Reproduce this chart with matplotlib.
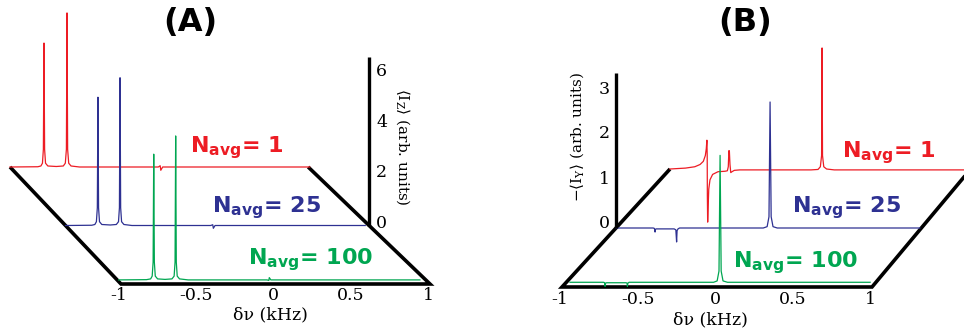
import matplotlib
matplotlib.use('Agg')
import numpy as np
import matplotlib.pyplot as plt
from matplotlib.transforms import Affine2D, offset_copy

RED = '#ED1C24'
BLUE = '#2E3192'
GREEN = '#00A651'

# ---------------- data ----------------
n_avg = [1, 25, 100]
x_ticks = [-1, -0.5, 0, 0.5, 1]
x_tick_labels = ['-1', '-0.5', '0', '0.5', '1']
a_z_ticks = [0, 2, 4, 6]
b_z_ticks = [0, 1, 2, 3]

# Panel A  (<I_Z>)
a_red_x = [-1.0, -0.82, -0.800, -0.790, -0.784, -0.780, -0.776, -0.770, -0.755, -0.70,
           -0.655, -0.642, -0.635, -0.631, -0.627, -0.620, -0.605, -0.55,
           -0.04, -0.028, -0.024, -0.012, 0.94]
a_red_z = [0.0, 0.01, 0.04, 0.15, 0.7, 4.9, 0.7, 0.15, 0.04, 0.02,
           0.04, 0.15, 0.7, 6.09, 0.7, 0.15, 0.04, 0.0,
           0.0, 0.05, -0.13, 0.0, 0.0]
a_blue_x = [-1.0, -0.83, -0.810, -0.800, -0.794, -0.790, -0.786, -0.780, -0.765, -0.71,
            -0.671, -0.657, -0.651, -0.647, -0.643, -0.637, -0.622, -0.57,
            -0.06, -0.047, -0.043, -0.032, 0.94]
a_blue_z = [0.0, 0.01, 0.04, 0.15, 0.7, 5.07, 0.7, 0.15, 0.04, 0.02,
            0.04, 0.15, 0.7, 5.84, 0.7, 0.15, 0.04, 0.0,
            0.0, 0.03, -0.11, 0.0, 0.0]
a_green_x = [-0.99, -0.81, -0.783, -0.773, -0.767, -0.763, -0.759, -0.753, -0.738, -0.69,
             -0.645, -0.631, -0.625, -0.621, -0.617, -0.611, -0.596, -0.54,
             -0.03, -0.018, -0.015, -0.005, 0.96]
a_green_z = [0.0, 0.01, 0.04, 0.15, 0.7, 4.97, 0.7, 0.15, 0.04, 0.02,
             0.04, 0.15, 0.7, 5.69, 0.7, 0.15, 0.04, 0.0,
             0.0, -0.02, 0.09, 0.0, 0.0]

# Panel B  (-<I_Y>)
b_red_x = [-1.0, -0.90, -0.84, -0.806, -0.785, -0.772, -0.766, -0.762, -0.760, -0.759,
           -0.757, -0.754, -0.750, -0.742, -0.725, -0.69, -0.645, -0.630, -0.624, -0.620,
           -0.617, -0.613, -0.608, -0.600, -0.585, -0.55, -0.09, -0.045, -0.030, -0.022,
           -0.019, -0.016, -0.008, 0.01, 0.06, 0.96]
b_red_z = [0.0, 0.02, 0.05, 0.10, 0.17, 0.30, 0.45, 0.64, 0.3, -0.6,
           -1.18, -0.85, -0.45, -0.24, -0.12, -0.06, -0.05, -0.04, 0.05, 0.41,
           0.40, 0.10, -0.08, -0.06, -0.03, -0.02, -0.02, -0.01, 0.05, 0.3,
           2.69, 0.3, 0.05, 0.0, -0.02, -0.02]
b_blue_x = [-1.0, -0.76, -0.752, -0.748, -0.746, -0.74, -0.70, -0.625, -0.614, -0.609,
            -0.606, -0.600, -0.59, -0.05, -0.025, -0.013, -0.006, 0.001, 0.013, 0.04, 0.96]
b_blue_z = [0.0, 0.0, -0.01, -0.09, -0.03, -0.02, -0.02, -0.02, -0.04, -0.31,
            -0.06, -0.02, 0.0, 0.0, 0.03, 0.25, 2.8, 0.25, 0.03, 0.0, 0.0]
b_green_x = [-0.976, -0.76, -0.753, -0.750, -0.747, -0.74, -0.615, -0.608, -0.606, -0.603,
             -0.595, -0.05, -0.027, -0.015, -0.008, -0.001, 0.011, 0.04, 0.96]
b_green_z = [0.0, 0.0, -0.01, -0.09, -0.02, -0.01, -0.01, -0.02, -0.09, -0.02,
             0.0, 0.0, 0.03, 0.25, 2.82, 0.25, 0.03, 0.0, 0.0]

# ---------------- figure ----------------
fig = plt.figure(figsize=(9.64, 3.35), dpi=100)
ax = fig.add_axes([0, 0, 1, 1])
ax.set_xlim(0, 964)
ax.set_ylim(335, 0)
ax.axis('off')

# projection geometry of each panel (pixel layout)
PA = dict(ox=121, oy=284, sx=154.5, ddx=-55.5, ddy=-58.5, sz=25.3)
PB = dict(ox=562, oy=287, sx=155.0, ddx=54.0, ddy=-59.0, sz=45.0)


def trace_tf(p, d):
    return (Affine2D().scale(p['sx'], -p['sz'])
            .translate(p['ox'] + p['sx'] + d * p['ddx'], p['oy'] + d * p['ddy'])
            + ax.transData)


def floor_tf(p):
    m = np.array([[p['sx'], p['ddx'], p['ox'] + p['sx']],
                  [0.0, p['ddy'], p['oy']],
                  [0.0, 0.0, 1.0]])
    return Affine2D(m) + ax.transData


serif = 'DejaVu Serif'
sans = 'DejaVu Sans'
LW_EDGE = 2.6
LW_TRACE = 0.9


def draw_panel(p, traces, floor_x, floor_d, zaxis_x, zaxis_top, z_ticks, z_side,
               zlabel, zlabel_xy, zlabel_rot, title, title_xy, xlabel_xy, nlabels):
    ft = floor_tf(p)
    ax.plot(floor_x, floor_d, color='black', lw=LW_EDGE, transform=ft,
            solid_capstyle='butt', solid_joinstyle='miter', zorder=2)
    for xs, zs, d, c in traces:
        ax.plot(xs, zs, color=c, lw=LW_TRACE, transform=trace_tf(p, d), zorder=3)
    tz = trace_tf(p, 1.0)
    ax.plot([zaxis_x, zaxis_x], [0, zaxis_top], color='black', lw=2.4,
            transform=tz, solid_capstyle='butt', zorder=4)
    for zt in z_ticks:
        if z_side == 'right':
            tr = offset_copy(tz, fig=fig, x=7, y=2, units='dots')
            ax.text(zaxis_x, zt, str(zt), transform=tr, ha='left', va='center',
                    family=serif, fontsize=12.5)
        else:
            tr = offset_copy(tz, fig=fig, x=-6, y=4, units='dots')
            ax.text(zaxis_x, zt, str(zt), transform=tr, ha='right', va='center',
                    family=serif, fontsize=12.5)
    ax.text(zlabel_xy[0], zlabel_xy[1], zlabel, rotation=zlabel_rot, ha='center',
            va='center', family=serif, fontsize=11, math_fontfamily='dejavuserif')
    for xt, lab in zip(x_ticks, x_tick_labels):
        tr = offset_copy(ft, fig=fig, x=-2, y=-12, units='dots')
        ax.text(xt, 0, lab, transform=tr, ha='center', va='center',
                family=serif, fontsize=12.5)
    ax.text(xlabel_xy[0], xlabel_xy[1], 'δν (kHz)', ha='center', va='center',
            family=serif, fontsize=12.5)
    ax.text(title_xy[0], title_xy[1], title, ha='center', va='center',
            family=sans, fontweight='bold', fontsize=23)
    for (lx, ly), n, c in nlabels:
        ax.text(lx, ly, r'$\mathbf{N_{avg}}$' + '= %d' % n, ha='left', va='baseline',
                color=c, family=sans, fontweight='bold', fontsize=16,
                math_fontfamily='dejavusans')


draw_panel(PA,
           [(a_red_x, a_red_z, 2.0, RED), (a_blue_x, a_blue_z, 1.0, BLUE),
            (a_green_x, a_green_z, 0.07, GREEN)],
           [-1, -1, 1, 0.93], [2, 0, 0, 2],
           0.965, 6.65, a_z_ticks, 'right',
           r'$\langle \mathrm{I}_{\mathrm{Z}} \rangle$ (arb. units)', (403, 147), -90,
           '(A)', (190, 23), (270, 315),
           [((190, 152), n_avg[0], RED), ((212, 212), n_avg[1], BLUE),
            ((248, 264), n_avg[2], GREEN)])

draw_panel(PB,
           [(b_red_x, b_red_z, 2.0, RED), (b_blue_x, b_blue_z, 1.0, BLUE),
            (b_green_x, b_green_z, 0.08, GREEN)],
           [-1, -1, 1, 0.94], [2, 0, 0, 2],
           -1.0, 3.44, b_z_ticks, 'left',
           r'$-\langle \mathrm{I}_{\mathrm{Y}} \rangle$ (arb. units)', (577, 137), 90,
           '(B)', (745, 23), (710, 320),
           [((842, 157), n_avg[0], RED), ((792, 212), n_avg[1], BLUE),
            ((733, 267), n_avg[2], GREEN)])

fig.savefig('out.png', dpi=100)
